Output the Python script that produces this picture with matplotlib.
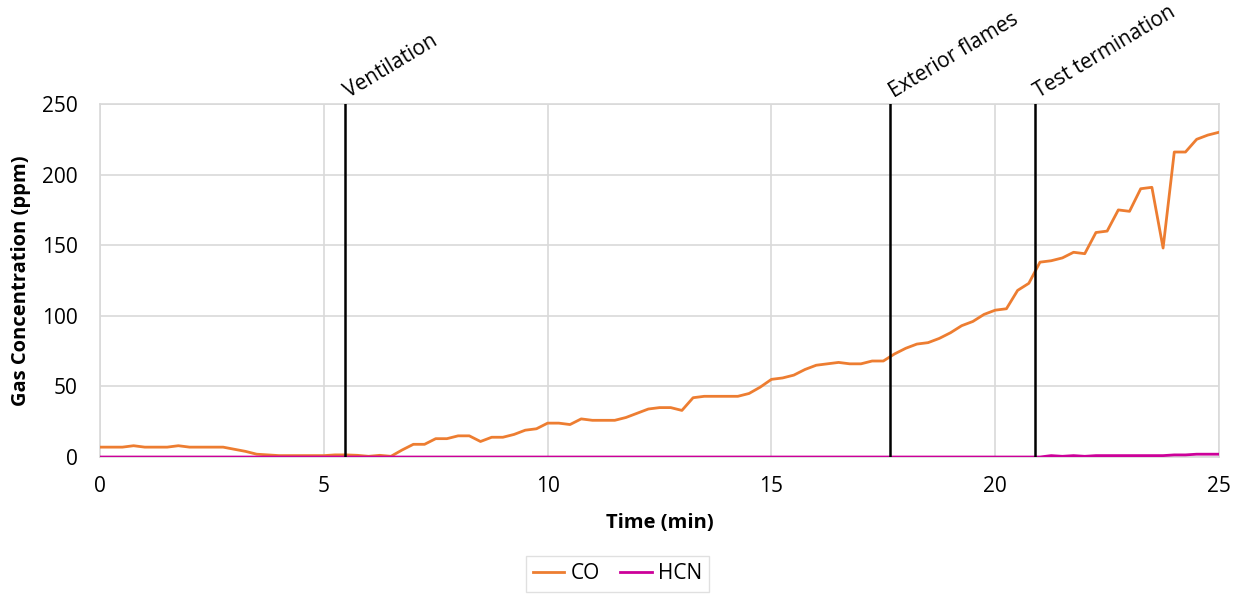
import matplotlib
matplotlib.use("Agg")
import matplotlib.pyplot as plt
import numpy as np

time_min = [i * 0.25 for i in range(101)]
co_ppm = [7, 7, 7, 8, 7, 7, 7, 8, 7, 7, 7, 7, 5.5, 4, 2, 1.5, 1, 1, 1, 1,
          1, 1.5, 1.5, 1.2, 0.5, 1.2, 0.5, 5, 9, 9, 13, 13, 15, 15, 11, 14,
          14, 16, 19, 20, 24, 24, 23, 27, 26, 26, 26, 28, 31, 34, 35, 35, 33,
          42, 43, 43, 43, 43, 45, 49.5, 55, 56, 58, 62, 65, 66, 67, 66, 66,
          68, 68, 73, 77, 80, 81, 84, 88, 93, 96, 101, 104, 105, 118, 123,
          138, 139, 141, 145, 144, 159, 160, 175, 174, 190, 191, 148, 216,
          216, 225, 228, 230]
hcn_ppm = [0] * 84 + [0, 1, 0.5, 1, 0.5, 1, 1, 1, 1, 1, 1, 1, 1.5, 1.5, 2, 2, 2]

events = ["Ventilation", "Exterior flames", "Test termination"]
event_times = [5.47, 17.65, 20.89]

x_ticks = [0, 5, 10, 15, 20, 25]
y_ticks = [0, 50, 100, 150, 200, 250]

plt.rcParams['font.family'] = ['Open Sans', 'DejaVu Sans']

fig = plt.figure(figsize=(12.41, 5.94), dpi=100)
ax = fig.add_axes([0.0806, 0.2306, 0.9017, 0.5943])

ax.plot(time_min, co_ppm, color='#ED7D31', lw=2, label='CO', zorder=3)
ax.plot(time_min, hcn_ppm, color='#CC0099', lw=2, label='HCN', zorder=3)

for name, t in zip(events, event_times):
    ax.axvline(t, color='black', lw=1.8, zorder=4)
    ax.text(t + 0.09, 254, name, rotation=31, rotation_mode='anchor',
            ha='left', va='baseline', fontsize=15, color='black')

ax.set_xlim(0, 25)
ax.set_ylim(0, 250)
ax.set_xticks(x_ticks)
ax.set_yticks(y_ticks)
ax.tick_params(axis='both', length=0, labelsize=15)
ax.tick_params(axis='y', pad=16)
ax.tick_params(axis='x', pad=14)
ax.grid(True, color='#D9D9D9', lw=1.2, zorder=0)
ax.set_axisbelow(True)
for s in ax.spines.values():
    s.set_color('#D9D9D9')
    s.set_linewidth(1.2)

ax.set_xlabel('Time (min)', fontsize=14.5, fontweight='bold', labelpad=11)
ax.set_ylabel('Gas Concentration (ppm)', fontsize=14.5, fontweight='bold', labelpad=8)

leg = fig.legend(loc='upper center', bbox_to_anchor=(0.4975, 0.064), ncol=2,
                 fontsize=15, frameon=True, fancybox=False, edgecolor='#D9D9D9',
                 handlelength=1.5, handletextpad=0.3, columnspacing=1.0,
                 borderpad=0.35, borderaxespad=0)
leg.get_frame().set_linewidth(1.0)

fig.savefig('out.png', dpi=100)
